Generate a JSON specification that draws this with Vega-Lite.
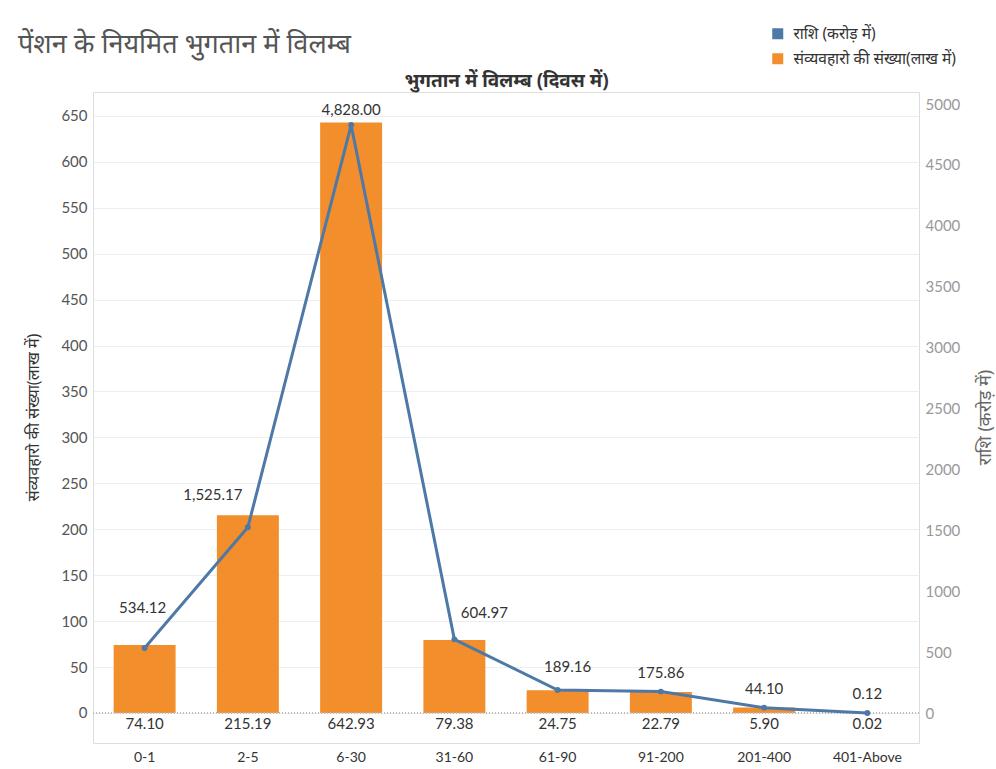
{
  "$schema": "https://vega.github.io/schema/vega-lite/v6.json",
  "width": 826,
  "height": 651,
  "autosize": {"type": "none"},
  "padding": {"left": 93, "top": 92, "right": 77, "bottom": 26},
  "background": "white",
  "title": {
    "text": "पेंशन के नियमित भुगतान में विलम्ब",
    "anchor": "start",
    "frame": "group",
    "dx": -75,
    "dy": 43,
    "fontSize": 27,
    "fontWeight": "normal",
    "color": "#555555",
    "font": "Noto Sans",
    "offset": 10
  },
  "config": {
    "font": "Lato",
    "view": {"stroke": "#dddddd"},
    "axis": {"labelFont": "Lato", "titleFont": "Noto Sans"},
    "legend": {"labelFont": "Noto Sans"}
  },
  "data": {
    "values": [
      {"cat": "0-1", "count": 74.10, "amount": 534.12},
      {"cat": "2-5", "count": 215.19, "amount": 1525.17},
      {"cat": "6-30", "count": 642.93, "amount": 4828.00},
      {"cat": "31-60", "count": 79.38, "amount": 604.97},
      {"cat": "61-90", "count": 24.75, "amount": 189.16},
      {"cat": "91-200", "count": 22.79, "amount": 175.86},
      {"cat": "201-400", "count": 5.90, "amount": 44.10},
      {"cat": "401-Above", "count": 0.02, "amount": 0.12}
    ]
  },
  "encoding": {
    "x": {
      "field": "cat",
      "type": "nominal",
      "sort": null,
      "scale": {"paddingInner": 0.4, "paddingOuter": 0.2},
      "axis": {
        "labelAngle": 0,
        "labelFontSize": 14,
        "labelColor": "#333333",
        "ticks": false,
        "domain": false,
        "labelPadding": 7,
        "title": "भुगतान में विलम्ब (दिवस में)",
        "titleFontSize": 19,
        "titleFontWeight": "bold",
        "titleColor": "#333333",
        "titleX": 413,
        "titleY": -663,
        "titleBaseline": "middle",
        "titleAlign": "center"
      }
    }
  },
  "layer": [
    {
      "layer": [
        {
          "mark": {"type": "bar", "color": "#f28e2b"},
          "encoding": {
            "y": {
              "field": "count",
              "type": "quantitative",
              "scale": {"domain": [-32.7, 676], "nice": false, "zero": false},
              "axis": {
                "values": [0, 50, 100, 150, 200, 250, 300, 350, 400, 450, 500, 550, 600, 650],
                "grid": true,
                "gridColor": "#eeeeee",
                "domain": false,
                "ticks": false,
                "labelFontSize": 15,
                "labelColor": "#555555",
                "labelPadding": 6,
                "title": "संव्यवहारो की संख्या(लाख में)",
                "titleFontSize": 16,
                "titleFontWeight": "normal",
                "titleColor": "#333333",
                "titleAngle": 270,
                "titleAlign": "center",
                "titleBaseline": "middle",
                "titleX": -60,
                "titleY": 325
              }
            },
            "y2": {"datum": 0},
            "color": {
              "datum": "संव्यवहारो की संख्या(लाख में)",
              "scale": {
                "domain": ["राशि (करोड़ में)", "संव्यवहारो की संख्या(लाख में)"],
                "range": ["#4e79a7", "#f28e2b"]
              },
              "legend": {
                "title": null,
                "orient": "none",
                "legendX": 677,
                "legendY": -66,
                "symbolType": "square",
                "symbolSize": 121,
                "symbolStrokeWidth": 0,
                "labelFontSize": 15.5,
                "labelColor": "#333333",
                "labelOffset": 8,
                "labelLimit": 400,
                "rowPadding": 8
              }
            }
          }
        },
        {
          "mark": {"type": "rule", "color": "#bbbbbb", "strokeDash": [1, 2], "strokeWidth": 1},
          "encoding": {"y": {"datum": 0}, "x": null}
        },
        {
          "mark": {"type": "text", "fontSize": 15, "color": "#333333", "baseline": "middle", "dy": 11},
          "encoding": {
            "y": {"datum": 0},
            "text": {"field": "count", "format": ".2f"}
          }
        }
      ]
    },
    {
      "layer": [
        {
          "mark": {"type": "line", "strokeWidth": 3},
          "encoding": {
            "y": {
              "field": "amount",
              "type": "quantitative",
              "scale": {"domain": [-246, 5099], "nice": false, "zero": false},
              "axis": {
                "orient": "right",
                "values": [0, 500, 1000, 1500, 2000, 2500, 3000, 3500, 4000, 4500, 5000],
                "format": "d",
                "grid": false,
                "domain": false,
                "ticks": false,
                "labelFontSize": 15,
                "labelColor": "#999999",
                "labelPadding": 6,
                "title": "राशि (करोड़ में)",
                "titleFontSize": 18,
                "titleFontWeight": "normal",
                "titleColor": "#666666",
                "titleAngle": 270,
                "titleAlign": "center",
                "titleBaseline": "middle",
                "titleX": 66,
                "titleY": 325
              }
            },
            "color": {"datum": "राशि (करोड़ में)"}
          }
        },
        {
          "mark": {"type": "point", "filled": true, "size": 35, "opacity": 1},
          "encoding": {
            "y": {"field": "amount", "type": "quantitative"},
            "color": {"datum": "राशि (करोड़ में)"}
          }
        },
        {
          "transform": [{"filter": "datum.cat == '91-200' || datum.cat == '201-400' || datum.cat == '401-Above'"}],
          "mark": {"type": "text", "fontSize": 15, "color": "#333333", "baseline": "middle", "dy": -19},
          "encoding": {
            "y": {"field": "amount", "type": "quantitative"},
            "text": {"field": "amount", "format": ",.2f"}
          }
        },
        {
          "transform": [{"filter": "datum.cat == '0-1'"}],
          "mark": {"type": "text", "fontSize": 15, "color": "#333333", "baseline": "middle", "dy": -40, "dx": -2},
          "encoding": {
            "y": {"field": "amount", "type": "quantitative"},
            "text": {"field": "amount", "format": ",.2f"}
          }
        },
        {
          "transform": [{"filter": "datum.cat == '2-5'"}],
          "mark": {"type": "text", "fontSize": 15, "color": "#333333", "baseline": "middle", "dy": -32, "dx": -35},
          "encoding": {
            "y": {"field": "amount", "type": "quantitative"},
            "text": {"field": "amount", "format": ",.2f"}
          }
        },
        {
          "transform": [{"filter": "datum.cat == '6-30'"}],
          "mark": {"type": "text", "fontSize": 15, "color": "#333333", "baseline": "middle", "dy": -15},
          "encoding": {
            "y": {"field": "amount", "type": "quantitative"},
            "text": {"field": "amount", "format": ",.2f"}
          }
        },
        {
          "transform": [{"filter": "datum.cat == '31-60'"}],
          "mark": {"type": "text", "fontSize": 15, "color": "#333333", "baseline": "middle", "dy": -26, "dx": 30},
          "encoding": {
            "y": {"field": "amount", "type": "quantitative"},
            "text": {"field": "amount", "format": ",.2f"}
          }
        },
        {
          "transform": [{"filter": "datum.cat == '61-90'"}],
          "mark": {"type": "text", "fontSize": 15, "color": "#333333", "baseline": "middle", "dy": -23, "dx": 10},
          "encoding": {
            "y": {"field": "amount", "type": "quantitative"},
            "text": {"field": "amount", "format": ",.2f"}
          }
        }
      ]
    }
  ],
  "resolve": {"scale": {"y": "independent"}}
}
